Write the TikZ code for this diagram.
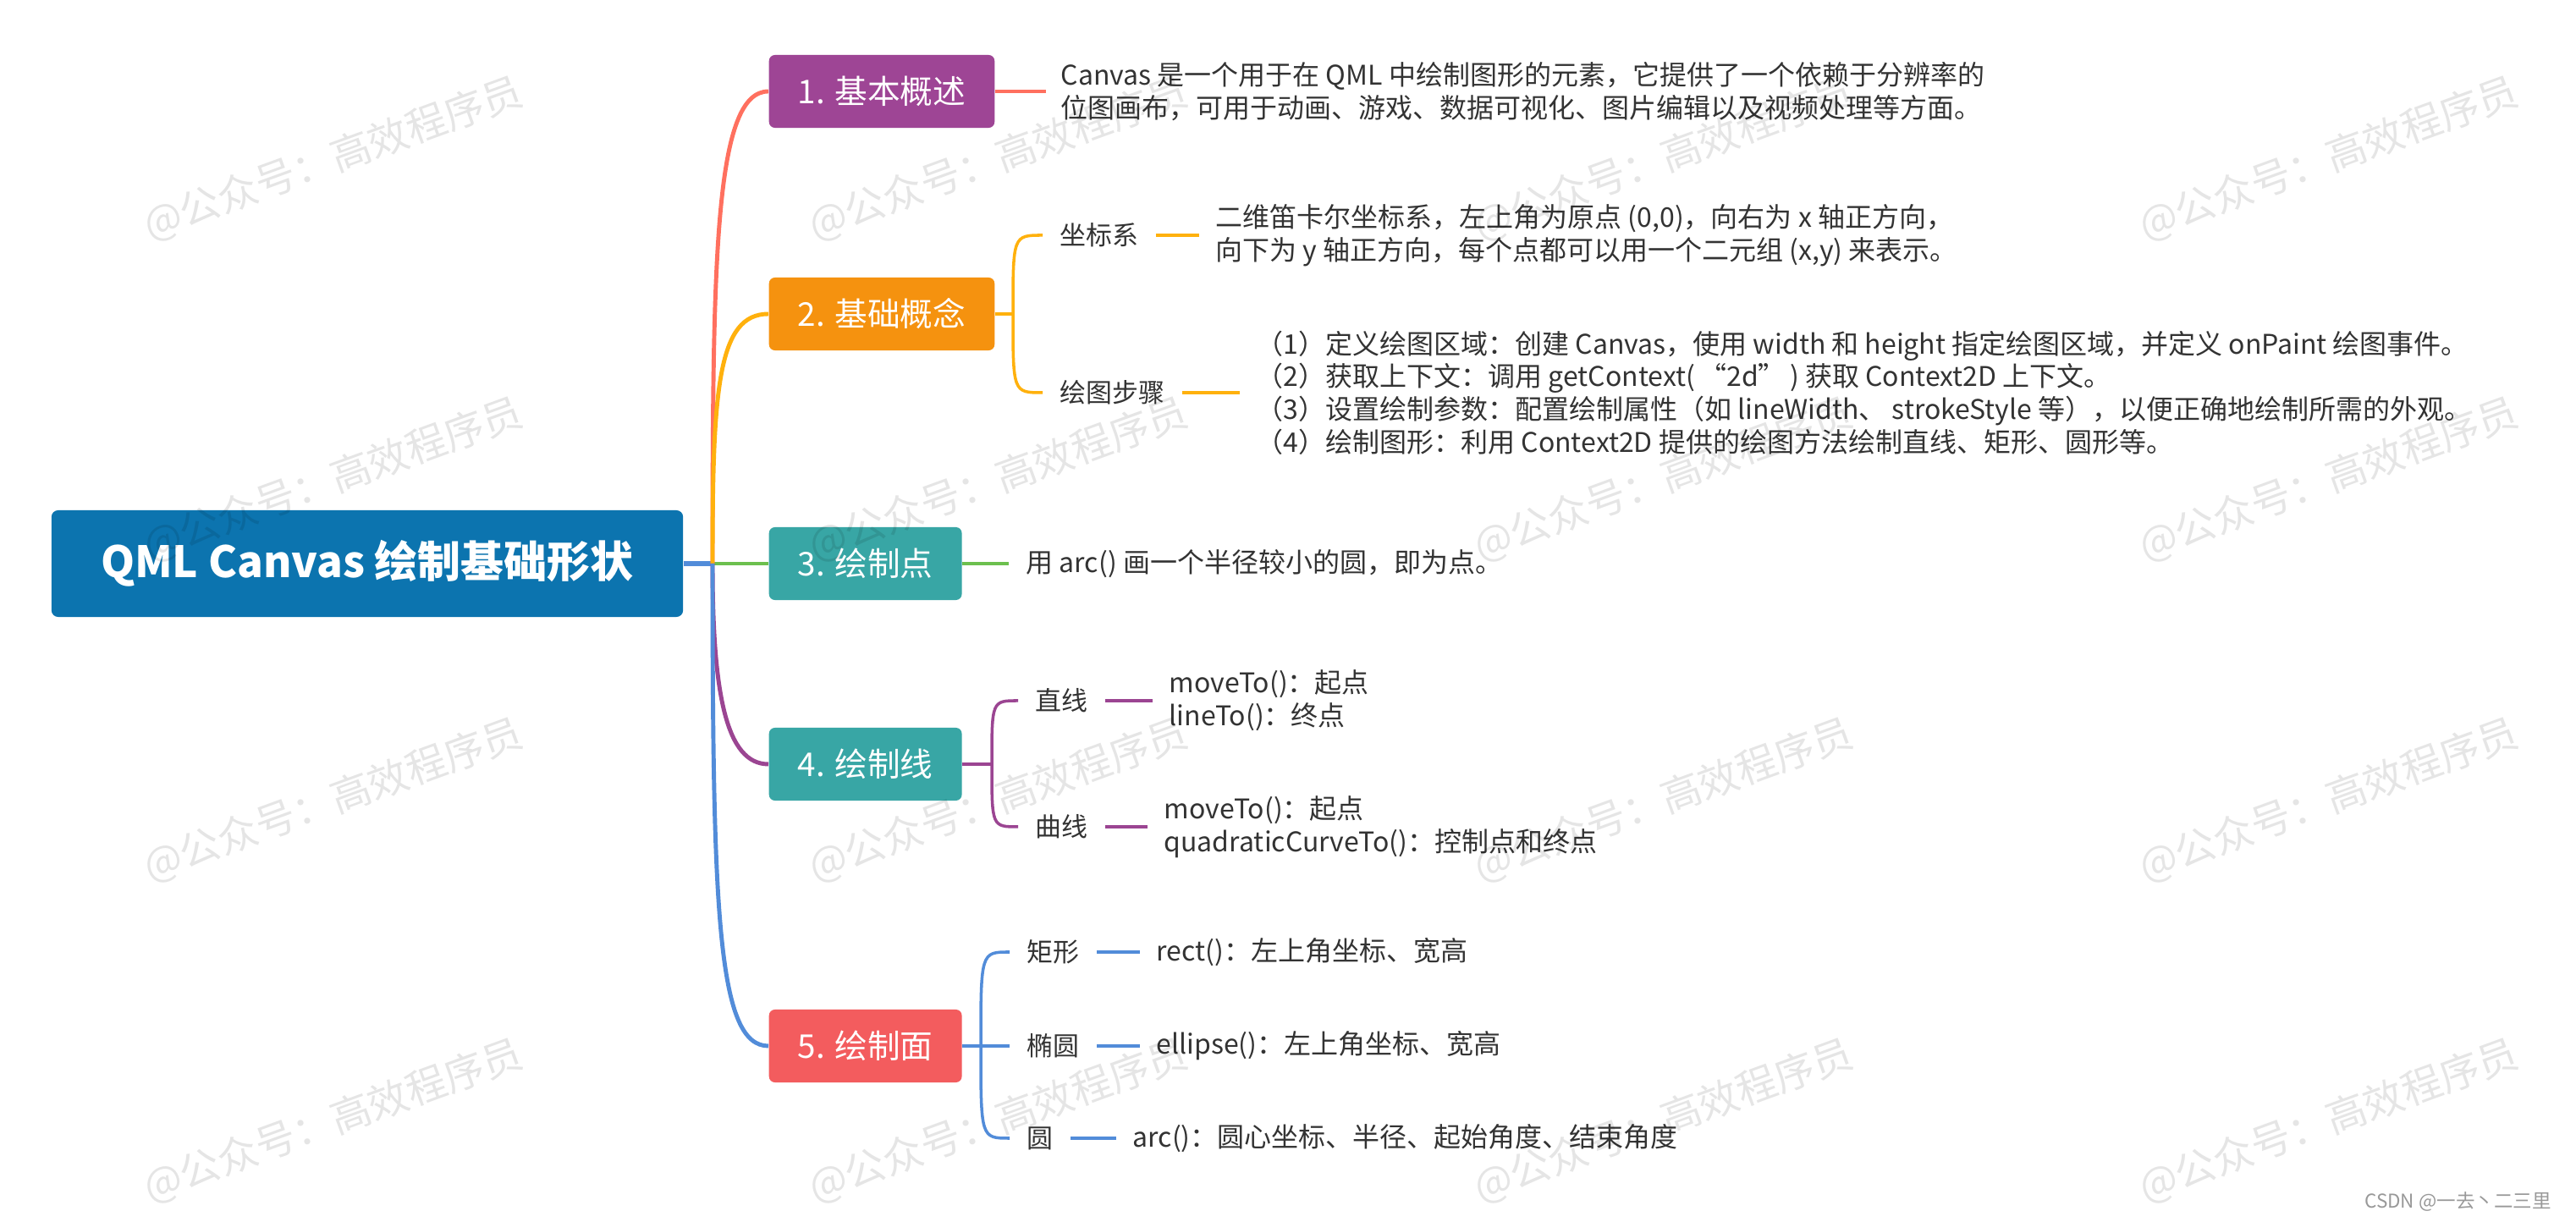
\documentclass[tikz,border=0pt]{standalone}
\usepackage{fontspec}
\setmainfont{Noto Sans CJK SC}
\usepackage{tikz}
\usepackage{xcolor}

\definecolor{rootblue}{HTML}{0C74AF}
\definecolor{topicpurple}{HTML}{9E4595}
\definecolor{topicorange}{HTML}{F5920F}
\definecolor{topicteal}{HTML}{38A6A5}
\definecolor{topicred}{HTML}{F35C5E}
\definecolor{linecoral}{HTML}{FF705F}
\definecolor{lineamber}{HTML}{FFB10D}
\definecolor{linegreen}{HTML}{6CC04E}
\definecolor{linepurple}{HTML}{9B4592}
\definecolor{lineblue}{HTML}{528CD9}
\definecolor{textgray}{HTML}{333333}

\tikzset{
  rootbox/.style={fill=rootblue, text=white, rounded corners=0.08cm,
    minimum width=7.46cm, minimum height=1.26cm,
    font=\fontsize{14.5}{17}\selectfont\bfseries},
  topic/.style={text=white, rounded corners=0.07cm, inner xsep=0.34cm,
    minimum height=0.86cm, anchor=west, font=\fontsize{11}{13}\selectfont},
  leaf/.style={text=textgray, inner xsep=0.2cm, inner ysep=0, anchor=west,
    font=\fontsize{8.8}{11}\selectfont},
  desc/.style={text=textgray, inner sep=0, align=left, anchor=west,
    font=\fontsize{9.1}{11}\selectfont},
  branch/.style={line width=1.4pt},
  twig/.style={line width=1pt},
  stem/.style={line width=1.4pt, shorten >=0.19cm},
  wmark/.style={text=black, text opacity=0.1, rotate=20,
    font=\fontsize{13.5}{15}\selectfont},
  footer/.style={text=black!40, anchor=east, font=\fontsize{6.4}{8}\selectfont}
}

\begin{document}
\begin{tikzpicture}[x=0.01cm, y=-0.01cm]
    \fill[white] (0,0) rectangle (3044,1438);

    % Root
    \node[rootbox] (root) at (434,666) {QML Canvas 绘制基础形状};
    \coordinate (trunk) at (842,666);

    % Topics
    \node[topic, fill=topicpurple] (basic) at (908,108) {1. 基本概述};
    \node[topic, fill=topicorange] (concept) at (908,371) {2. 基础概念};
    \node[topic, fill=topicteal] (dot) at (908,666) {3. 绘制点};
    \node[topic, fill=topicteal] (lines) at (908,903) {4. 绘制线};
    \node[topic, fill=topicred] (faces) at (908,1236) {5. 绘制面};

    % Branches
    \draw[lineblue, line width=1.5pt] (root.east) -- (trunk);
    \draw[linegreen, branch] (trunk) -- (dot.west);
    \draw[linecoral, branch] (trunk) .. controls (842,300) and (845,108) .. (basic.west);
    \draw[lineamber, branch] (trunk) .. controls (842,460) and (848,371) .. (concept.west);
    \draw[linepurple, branch] (trunk) .. controls (842,820) and (858,903) .. (lines.west);
    \draw[lineblue, branch] (trunk) .. controls (842,1080) and (848,1236) .. (faces.west);

    % 1. overview
    \node[desc] (basicdesc) at (1253,108) {Canvas 是一个用于在 QML 中绘制图形的元素，它提供了一个依赖于分辨率的\\位图画布，可用于动画、游戏、数据可视化、图片编辑以及视频处理等方面。};
    \draw[linecoral, line width=1.4pt, shorten >=0.17cm] (basic.east) -- (basicdesc.west);

    % 2. concepts
    \coordinate (fork2) at (1197,371);
    \node[leaf] (coord) at (1232,278) {坐标系};
    \node[leaf] (steps) at (1232,464) {绘图步骤};
    \draw[lineamber, line width=1.2pt] (concept.east) -- (fork2);
    \draw[lineamber, twig] (coord.west) .. controls (fork2 |- coord.west) .. (fork2)
        .. controls (fork2 |- steps.west) .. (steps.west);
    \node[desc] (coorddesc) at (1436,278) {二维笛卡尔坐标系，左上角为原点 (0,0)，向右为 x 轴正方向，\\向下为 y 轴正方向，每个点都可以用一个二元组 (x,y) 来表示。};
    \node[desc] (stepsdesc) at (1484,464) {（1）定义绘图区域：创建 Canvas，使用 width 和 height 指定绘图区域，并定义 onPaint 绘图事件。\\（2）获取上下文：调用 getContext(\,“2d”\,) 获取 Context2D 上下文。\\（3）设置绘制参数：配置绘制属性（如 lineWidth、 strokeStyle 等），以便正确地绘制所需的外观。\\（4）绘制图形：利用 Context2D 提供的绘图方法绘制直线、矩形、圆形等。};
    \draw[lineamber, stem] (coord.east) -- (coorddesc.west);
    \draw[lineamber, stem] (steps.east) -- (stepsdesc.west);

    % 3. point
    \node[desc] (dotdesc) at (1212,666) {用 arc() 画一个半径较小的圆，即为点。};
    \draw[linegreen, line width=1.3pt, shorten >=0.2cm] (dot.east) -- (dotdesc.west);

    % 4. lines
    \coordinate (fork4) at (1172,903);
    \node[leaf] (straight) at (1203,828) {直线};
    \node[leaf] (curve) at (1203,977) {曲线};
    \draw[linepurple, line width=1.2pt] (lines.east) -- (fork4);
    \draw[linepurple, twig] (straight.west) .. controls (fork4 |- straight.west) .. (fork4)
        .. controls (fork4 |- curve.west) .. (curve.west);
    \node[desc] (straightdesc) at (1381,828) {moveTo()：起点\\lineTo()：终点};
    \node[desc] (curvedesc) at (1375,977) {moveTo()：起点\\quadraticCurveTo()：控制点和终点};
    \draw[linepurple, stem] (straight.east) -- (straightdesc.west);
    \draw[linepurple, stem] (curve.east) -- (curvedesc.west);

    % 5. faces
    \coordinate (fork5) at (1159,1236);
    \node[leaf] (rect) at (1193,1125) {矩形};
    \node[leaf] (ellip) at (1193,1236) {椭圆};
    \node[leaf] (circ) at (1193,1345) {圆};
    \draw[lineblue, line width=1.2pt] (faces.east) -- (ellip.west);
    \draw[lineblue, twig] (rect.west) .. controls (fork5 |- rect.west) .. (fork5)
        .. controls (fork5 |- circ.west) .. (circ.west);
    \node[desc] (rectdesc) at (1366,1125) {rect()：左上角坐标、宽高};
    \node[desc] (ellipdesc) at (1366,1236) {ellipse()：左上角坐标、宽高};
    \node[desc] (circdesc) at (1338,1345) {arc()：圆心坐标、半径、起始角度、结束角度};
    \draw[lineblue, stem] (rect.east) -- (rectdesc.west);
    \draw[lineblue, stem] (ellip.east) -- (ellipdesc.west);
    \draw[lineblue, stem] (circ.east) -- (circdesc.west);

    % Watermarks
    \foreach \wx in {394,1180,1966,2752}
      \foreach \wy in {188,567,946,1325}
        \node[wmark] (wm-\wx-\wy) at (\wx,\wy) {@公众号：高效程序员};

    \node[footer] (credit) at (3027,1420) {CSDN @一去丶二三里};
\end{tikzpicture}
\end{document}
